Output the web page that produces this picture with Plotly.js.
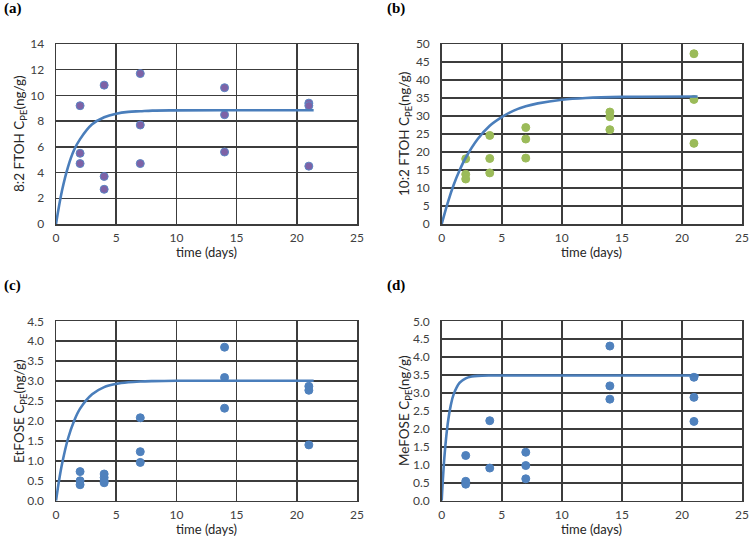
<!DOCTYPE html>
<html>
<head>
<meta charset="utf-8">
<script src="https://cdn.plot.ly/plotly-3.0.1.min.js"></script>
<style>
  body { margin: 0; background: #fff; }
  #chart { width: 750px; height: 536px; }
</style>
</head>
<body>
<div id="chart"></div>
<script>
// measured points (days, ng/g)
const ftoh82Days = [2, 2, 2, 4, 4, 4, 7, 7, 7, 14, 14, 14, 21, 21, 21];
const ftoh82Vals = [9.2, 5.5, 4.7, 10.8, 3.7, 2.7, 11.7, 7.7, 4.7, 10.6, 8.5, 5.6, 9.4, 9.2, 4.5];

const ftoh102Days = [2, 2, 2, 4, 4, 4, 7, 7, 7, 14, 14, 14, 21, 21, 21];
const ftoh102Vals = [18.1, 13.8, 12.5, 24.6, 18.2, 14.2, 26.8, 23.6, 18.3, 31.1, 29.8, 26.2, 47.3, 34.6, 22.4];

const etfoseDays = [2, 2, 2, 4, 4, 4, 4, 7, 7, 7, 14, 14, 14, 21, 21, 21];
const etfoseVals = [0.73, 0.5, 0.4, 0.67, 0.58, 0.5, 0.45, 2.08, 1.23, 0.96, 3.85, 3.09, 2.32, 2.87, 2.77, 1.4];

const mefoseDays = [2, 2, 2, 4, 4, 7, 7, 7, 14, 14, 14, 21, 21, 21];
const mefoseVals = [1.26, 0.54, 0.46, 2.23, 0.91, 1.35, 0.98, 0.61, 4.31, 3.2, 2.83, 3.44, 2.88, 2.21];

// fitted uptake curves
const fitADays = [0, 0.5, 1, 1.5, 2, 3, 4, 5, 6, 7, 8, 10, 15, 21.4];
const fitAVals = [0, 2.6, 4.45, 5.75, 6.6, 7.75, 8.3, 8.58, 8.72, 8.77, 8.82, 8.84, 8.85, 8.85];

const fitBDays = [0, 0.5, 1, 1.5, 2, 3, 4, 5, 6, 7, 8, 10, 12, 15, 21.3];
const fitBVals = [0, 5.9, 10.9, 15.0, 18.4, 23.6, 27.3, 29.7, 31.5, 32.7, 33.5, 34.5, 35.0, 35.3, 35.4];

const fitCDays = [0, 0.25, 0.5, 1, 1.5, 2, 3, 4, 5, 6, 7, 8, 10, 21.4];
const fitCVals = [0, 0.5, 0.92, 1.56, 2.0, 2.31, 2.67, 2.85, 2.93, 2.97, 2.99, 3.0, 3.01, 3.01];

const fitDDays = [0, 0.1, 0.25, 0.5, 0.75, 1, 1.5, 2, 2.5, 3, 4, 6, 10, 21.4];
const fitDVals = [0, 0.6, 1.32, 2.14, 2.65, 2.97, 3.29, 3.41, 3.46, 3.48, 3.49, 3.49, 3.49, 3.49];

const yTitles = [
  '8:2 FTOH C<sub>PE</sub>(ng/g)',
  '10:2 FTOH C<sub>PE</sub>(ng/g)',
  'EtFOSE C<sub>PE</sub>(ng/g)',
  'MeFOSE C<sub>PE</sub>(ng/g)'
];
const panelLabels = ['(a)', '(b)', '(c)', '(d)'];

const W = 750, H = 536;
const gridCol = '#3c3c3c';
const lineBlue = '#4a7ebb';
const sans = 'Lato, "Open Sans", sans-serif';

function scatter(xs, ys, n, fill, edge) {
  return {
    x: xs, y: ys, xaxis: 'x' + n, yaxis: 'y' + n,
    type: 'scatter', mode: 'markers',
    marker: {size: 8, color: fill, line: {color: edge, width: 1}},
    hoverinfo: 'x+y'
  };
}
function fit(xs, ys, n) {
  return {
    x: xs, y: ys, xaxis: 'x' + n, yaxis: 'y' + n,
    type: 'scatter', mode: 'lines',
    line: {color: lineBlue, width: 2.6, shape: 'spline', smoothing: 1.0},
    hoverinfo: 'x+y'
  };
}

const data = [
  scatter(ftoh82Days, ftoh82Vals, '', '#7e62a6', '#5b86c4'),
  fit(fitADays, fitAVals, ''),
  scatter(ftoh102Days, ftoh102Vals, 2, '#9bbb59', '#9bbb59'),
  fit(fitBDays, fitBVals, 2),
  scatter(etfoseDays, etfoseVals, 3, '#4f81bd', '#4f81bd'),
  fit(fitCDays, fitCVals, 3),
  scatter(mefoseDays, mefoseVals, 4, '#4f81bd', '#4f81bd'),
  fit(fitDDays, fitDVals, 4)
];

// plot boxes in pixels: [left, right, top, bottom]
const boxes = [
  [56, 357, 44, 224],
  [441.7, 742, 44, 224],
  [56, 357, 321.3, 500.7],
  [441.7, 742, 321.3, 500.7]
];
const yRanges = [[0, 14], [0, 50], [0, 4.5], [0, 5]];
const yDtick = [2, 5, 0.5, 0.5];
const yFormat = ['', '', '.1f', '.1f'];

const tickFont = {family: sans, size: 12, color: '#404040'};

const layout = {
  width: W, height: H,
  margin: {l: 0, r: 0, t: 0, b: 0},
  paper_bgcolor: '#ffffff',
  plot_bgcolor: '#ffffff',
  showlegend: false,
  annotations: []
};

boxes.forEach((b, i) => {
  const s = i === 0 ? '' : String(i + 1);
  layout['xaxis' + s] = {
    domain: [b[0] / W, b[1] / W],
    anchor: 'y' + s,
    range: [0, 25], dtick: 5, tick0: 0,
    showgrid: true, gridcolor: gridCol, gridwidth: 1.5,
    showline: true, mirror: true, linecolor: gridCol, linewidth: 1.5,
    zeroline: false, ticks: '', ticklabelstandoff: 2,
    tickfont: tickFont, fixedrange: true
  };
  layout['yaxis' + s] = {
    domain: [1 - b[3] / H, 1 - b[2] / H],
    anchor: 'x' + s,
    range: yRanges[i], dtick: yDtick[i], tick0: 0, tickformat: yFormat[i],
    showgrid: true, gridcolor: gridCol, gridwidth: 1.5,
    showline: true, mirror: true, linecolor: gridCol, linewidth: 1.5,
    zeroline: false, ticks: '', ticklabelstandoff: 8,
    tickfont: tickFont, fixedrange: true
  };
  // x title
  layout.annotations.push({
    xref: 'paper', yref: 'paper',
    x: (b[0] + b[1]) / 2 / W, y: 1 - (b[3] + 28.5) / H,
    text: 'time (days)', showarrow: false,
    xanchor: 'center', yanchor: 'middle',
    font: {family: sans, size: 13, color: '#262626'}
  });
  // y title
  layout.annotations.push({
    xref: 'paper', yref: 'paper',
    x: (i % 2 === 0 ? 20 : 405) / W, y: 1 - (b[2] + b[3]) / 2 / H,
    text: yTitles[i], showarrow: false, textangle: -90,
    xanchor: 'center', yanchor: 'middle',
    font: {family: sans, size: 13.5, color: '#262626'}
  });
  // panel label
  layout.annotations.push({
    xref: 'paper', yref: 'paper',
    x: (i % 2 === 0 ? 2 : 385) / W, y: 1 - (i < 2 ? 9 : 285) / H,
    text: '<b>' + panelLabels[i] + '</b>', showarrow: false,
    xanchor: 'left', yanchor: 'middle',
    font: {family: '"Liberation Serif", "DejaVu Serif", serif', size: 15, color: '#000'}
  });
});

Plotly.newPlot('chart', data, layout, {displayModeBar: false, staticPlot: true});
</script>
</body>
</html>
